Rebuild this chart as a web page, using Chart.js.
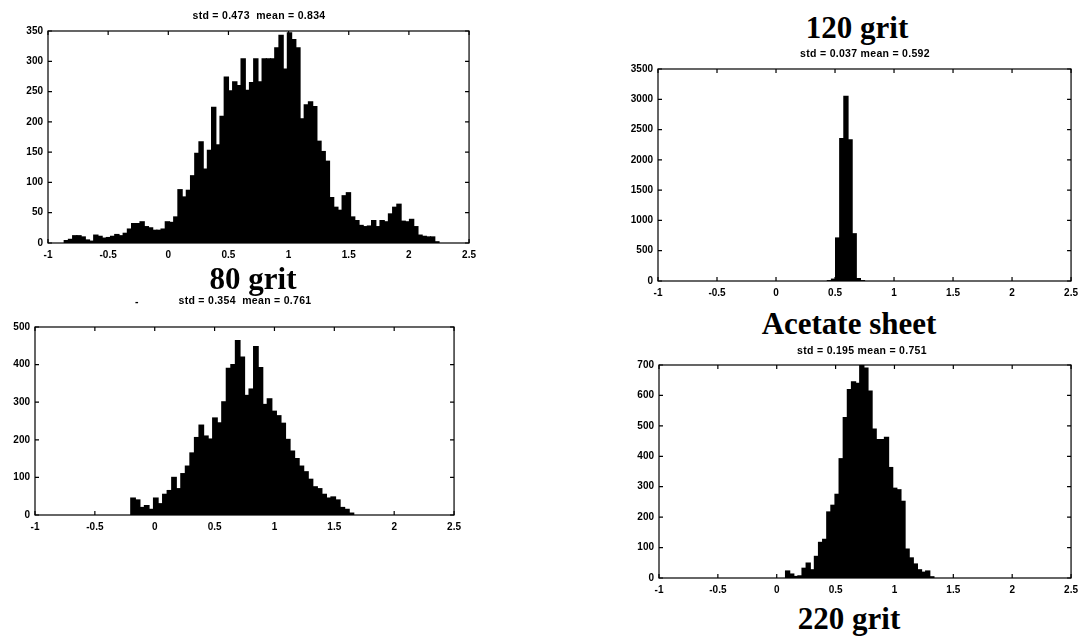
<!DOCTYPE html>
<html>
<head>
<meta charset="utf-8">
<script src="https://cdn.jsdelivr.net/npm/chart.js@4/dist/chart.umd.min.js"></script>
<style>
  body { margin: 0; background: #fff; width: 1091px; height: 640px; position: relative; overflow: hidden;
         font-family: "Liberation Sans", Arial, sans-serif; color: #000; }
  canvas { position: absolute; }
  .big { position: absolute; font-family: "Liberation Serif", "Times New Roman", serif; font-weight: bold;
         font-size: 31px; line-height: 31px; white-space: nowrap; transform: translateX(-50%); }
  .std { position: absolute; font-size: 10.5px; line-height: 10px; font-weight: bold; letter-spacing: 0.3px;
         white-space: pre; transform: translate(-50%, -50%); }
</style>
</head>
<body>
<canvas id="c1"></canvas>
<canvas id="c2"></canvas>
<canvas id="c3"></canvas>
<canvas id="c4"></canvas>

<div class="std" style="left:259px;top:15px">std = 0.473  mean = 0.834</div>
<div class="big" style="left:253px;top:263px">80 grit</div>
<div class="std" style="left:137px;top:301px">-</div>
<div class="std" style="left:245px;top:300px">std = 0.354  mean = 0.761</div>
<div class="big" style="left:857px;top:12px">120 grit</div>
<div class="std" style="left:865px;top:53px">std = 0.037 mean = 0.592</div>
<div class="big" style="left:849px;top:308px">Acetate sheet</div>
<div class="std" style="left:862px;top:350px">std = 0.195 mean = 0.751</div>
<div class="big" style="left:849px;top:603px">220 grit</div>

<script>
// histogram bins: first edge, bin width, counts per bin
const topLeftStart = -0.865;
const topLeftWidth = 0.035;
const topLeftCounts = [4, 6, 12, 12, 10, 5, 3, 13, 11, 8, 9, 11, 14, 12, 16, 23, 32, 32, 35, 27,
  25, 21, 21, 23, 35, 34, 43, 88, 76, 87, 111, 148, 167, 122, 153, 224, 162, 209, 274, 251,
  266, 260, 304, 252, 265, 304, 266, 304, 304, 304, 322, 343, 287, 347, 336, 322, 205, 228, 233, 225,
  168, 151, 135, 75, 59, 54, 78, 83, 43, 37, 29, 27, 28, 37, 27, 37, 35, 48, 59, 64,
  36, 35, 39, 27, 13, 11, 10, 10, 2];

const bottomLeftStart = -0.2;
const bottomLeftWidth = 0.038;
const bottomLeftCounts = [45, 40, 20, 25, 15, 45, 30, 55, 65, 100, 70, 110, 130, 165, 206, 239, 210, 202,
  258, 245, 301, 390, 400, 464, 420, 318, 335, 448, 392, 294, 309, 276, 264, 244, 201, 170, 150, 130,
  115, 95, 75, 70, 55, 45, 48, 40, 20, 15, 5];

const topRightStart = 0.435;
const topRightWidth = 0.035;
const topRightCounts = [5, 30, 710, 2350, 3050, 2330, 780, 40, 5];

const bottomRightStart = 0.075;
const bottomRightWidth = 0.035;
const bottomRightCounts = [23, 13, 5, 7, 32, 49, 27, 71, 117, 127, 217, 239, 275, 392, 527, 619, 645, 640,
  700, 690, 614, 489, 455, 455, 462, 363, 295, 290, 252, 95, 66, 46, 27, 19, 23, 4];

const xTicksMin = -1;
const xTicksMax = 2.5;

// MATLAB style box with inward ticks on all four sides
const boxFrame = {
  id: 'boxFrame',
  afterDatasetsDraw(chart) {
    const ctx = chart.ctx;
    const a = chart.chartArea;
    const x = chart.scales.x, y = chart.scales.y;
    ctx.save();
    ctx.strokeStyle = '#000';
    ctx.lineWidth = 1.2;
    ctx.strokeRect(a.left, a.top, a.right - a.left, a.bottom - a.top);
    ctx.beginPath();
    x.ticks.forEach(function(t) {
      const px = x.getPixelForValue(t.value);
      ctx.moveTo(px, a.bottom); ctx.lineTo(px, a.bottom - 4);
      ctx.moveTo(px, a.top); ctx.lineTo(px, a.top + 4);
    });
    y.ticks.forEach(function(t) {
      const py = y.getPixelForValue(t.value);
      ctx.moveTo(a.left, py); ctx.lineTo(a.left + 4, py);
      ctx.moveTo(a.right, py); ctx.lineTo(a.right - 4, py);
    });
    ctx.stroke();
    ctx.restore();
  }
};

const tickFont = { family: '"Liberation Sans", Arial, sans-serif', size: 10, weight: 'bold' };

function makeHist(id, area, start, width, counts, yMax, yStep) {
  // area = plot box in page pixels; canvas gets fixed margins round it
  const canvas = document.getElementById(id);
  const w = area.right - area.left + 52;
  const h = area.bottom - area.top + 30;
  canvas.width = w;
  canvas.height = h;
  canvas.style.left = (area.left - 40) + 'px';
  canvas.style.top = (area.top - 8) + 'px';
  canvas.style.width = w + 'px';
  canvas.style.height = h + 'px';

  const points = counts.map(function(c, i) {
    return { x: start + (i + 0.5) * width, y: c };
  });

  return new Chart(canvas, {
    type: 'bar',
    data: {
      datasets: [{
        data: points,
        backgroundColor: '#000',
        borderWidth: 0,
        inflateAmount: 0.6,
        barPercentage: 1,
        categoryPercentage: 1
      }]
    },
    options: {
      responsive: false,
      devicePixelRatio: 1,
      animation: false,
      events: [],
      layout: { padding: { top: 8, right: 12, left: 0, bottom: 0 } },
      plugins: { legend: { display: false }, tooltip: { enabled: false } },
      scales: {
        x: {
          type: 'linear',
          offset: false,
          min: xTicksMin,
          max: xTicksMax,
          grid: { display: false, offset: false, drawTicks: false },
          border: { display: false },
          ticks: {
            stepSize: 0.5, color: '#000', font: tickFont, padding: 6, maxRotation: 0,
            callback: function(v) { return String(Math.round(v * 10) / 10); }
          },
          afterFit: function(s) { s.height = 22; }
        },
        y: {
          min: 0,
          max: yMax,
          grid: { display: false, drawTicks: false },
          border: { display: false },
          ticks: {
            stepSize: yStep, color: '#000', font: tickFont, padding: 5,
            callback: function(v) { return String(v); }
          },
          afterFit: function(s) { s.width = 40; }
        }
      }
    },
    plugins: [boxFrame]
  });
}

makeHist('c1', { left: 48, right: 470, top: 28, bottom: 243 }, topLeftStart, topLeftWidth, topLeftCounts, 350, 50);
makeHist('c2', { left: 35, right: 455, top: 324, bottom: 515 }, bottomLeftStart, bottomLeftWidth, bottomLeftCounts, 500, 100);
makeHist('c3', { left: 658, right: 1072, top: 66, bottom: 281 }, topRightStart, topRightWidth, topRightCounts, 3500, 500);
makeHist('c4', { left: 659, right: 1072, top: 362, bottom: 578 }, bottomRightStart, bottomRightWidth, bottomRightCounts, 700, 100);
</script>
</body>
</html>
